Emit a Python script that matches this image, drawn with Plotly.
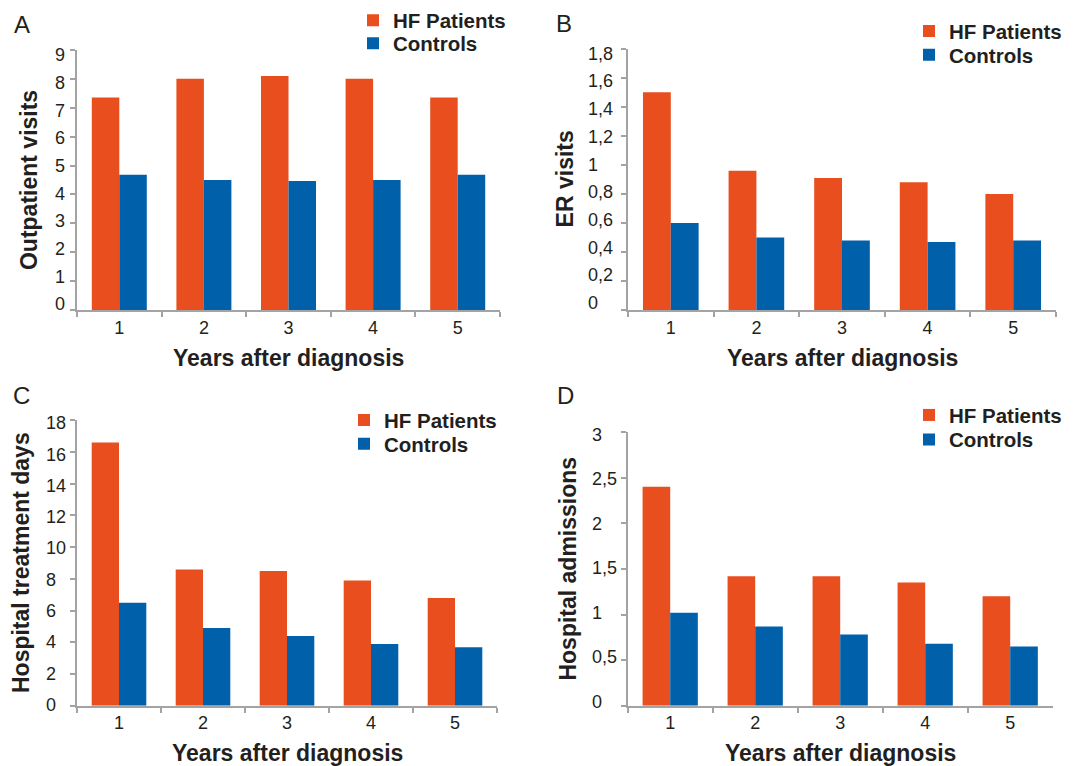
import plotly.graph_objects as go

# ---- data -------------------------------------------------------------
YEARS = ["1", "2", "3", "4", "5"]
SERIES_NAMES = ["HF Patients", "Controls"]

OUTPATIENT_HF = [7.35, 8.0, 8.1, 8.0, 7.35]
OUTPATIENT_CTRL = [4.68, 4.5, 4.47, 4.5, 4.68]

ER_HF = [1.5, 0.96, 0.91, 0.88, 0.8]
ER_CTRL = [0.6, 0.5, 0.48, 0.47, 0.48]

TREATMENT_DAYS_HF = [16.6, 8.6, 8.5, 7.9, 6.8]
TREATMENT_DAYS_CTRL = [6.5, 4.9, 4.4, 3.9, 3.7]

ADMISSIONS_HF = [2.4, 1.42, 1.42, 1.35, 1.2]
ADMISSIONS_CTRL = [1.02, 0.87, 0.78, 0.68, 0.65]

TICKS_A = [0, 1, 2, 3, 4, 5, 6, 7, 8, 9]
TICK_LABELS_A = ["0", "1", "2", "3", "4", "5", "6", "7", "8", "9"]
TICKS_B = [0, 0.2, 0.4, 0.6, 0.8, 1.0, 1.2, 1.4, 1.6, 1.8]
TICK_LABELS_B = ["0", "0,2", "0,4", "0,6", "0,8", "1", "1,2", "1,4", "1,6", "1,8"]
TICKS_C = [0, 2, 4, 6, 8, 10, 12, 14, 16, 18]
TICK_LABELS_C = ["0", "2", "4", "6", "8", "10", "12", "14", "16", "18"]
TICKS_D = [0, 0.5, 1.0, 1.5, 2.0, 2.5, 3.0]
TICK_LABELS_D = ["0", "0,5", "1", "1,5", "2", "2,5", "3"]

# ---- styling ----------------------------------------------------------
W, H = 1075, 766
ORANGE = "#E84E1E"
BLUE = "#0060A9"
AXIS_GREY = "#A3A3A3"
INK = "#231F20"
FONT = "Liberation Sans"
TICK_SIZE = 18
TITLE_SIZE = 23
LEGEND_SIZE = 20.5
LETTER_SIZE = 24


def px_x(v):
    return v / W


def px_y(v):
    return 1 - v / H


panels = [
    dict(letter="A", ytitle="Outpatient visits", hf=OUTPATIENT_HF, ctrl=OUTPATIENT_CTRL,
         ticks=TICKS_A, labels=TICK_LABELS_A,
         xpx=(77, 500), ypx=(48, 309), tick_dx=-24, tick_nudge=(6, -5.5),
         title_dx=-48, title_dy=-48,
         letter_pos=(21.5, 22.5), legend_rows=(18.5, 41.5), legend_x=353),
    dict(letter="B", ytitle="ER visits", hf=ER_HF, ctrl=ER_CTRL,
         ticks=TICKS_B, labels=TICK_LABELS_B,
         xpx=(628, 1056), ypx=(46.7, 309), tick_dx=-42, tick_nudge=(7, -5),
         title_dx=-63, title_dy=-48,
         letter_pos=(564, 22), legend_rows=(29.3, 53), legend_x=909),
    dict(letter="C", ytitle="Hospital treatment days", hf=TREATMENT_DAYS_HF, ctrl=TREATMENT_DAYS_CTRL,
         ticks=TICKS_C, labels=TICK_LABELS_C,
         xpx=(77, 497), ypx=(419.3, 705.7), tick_dx=-33, tick_nudge=(1, -3),
         title_dx=-56, title_dy=-47,
         letter_pos=(22, 395), legend_rows=(419.3, 443), legend_x=344),
    dict(letter="D", ytitle="Hospital admissions", hf=ADMISSIONS_HF, ctrl=ADMISSIONS_CTRL,
         ticks=TICKS_D, labels=TICK_LABELS_D,
         xpx=(627.7, 1052.7), ypx=(431, 705.7), tick_dx=-38, tick_nudge=(4, -3),
         title_dx=-60, title_dy=-47,
         letter_pos=(565, 395), legend_rows=(414.2, 438.7), legend_x=909),
]

fig = go.Figure()
layout = dict(
    width=W, height=H,
    margin=dict(l=0, r=0, t=0, b=0),
    paper_bgcolor="white", plot_bgcolor="white",
    barmode="group", bargap=0.35, bargroupgap=0,
    font=dict(family=FONT, color=INK, size=TICK_SIZE),
    showlegend=True,
)
annotations = []

for i, p in enumerate(panels):
    n = "" if i == 0 else str(i + 1)
    xa, ya = "x" + n, "y" + n
    leg_hf = "legend" if i == 0 else f"legend{2 * i + 1}"
    leg_ctrl = f"legend{2 * i + 2}"

    for name, vals, color, leg in ((SERIES_NAMES[0], p["hf"], ORANGE, leg_hf),
                                   (SERIES_NAMES[1], p["ctrl"], BLUE, leg_ctrl)):
        fig.add_trace(go.Bar(
            x=YEARS, y=vals, name=name, xaxis=xa, yaxis=ya,
            marker=dict(color=color, line=dict(width=0)),
            legend=leg, hoverinfo="x+y+name",
        ))

    # legends: one row per entry so the row spacing can be set exactly
    for leg, row in ((leg_hf, p["legend_rows"][0]), (leg_ctrl, p["legend_rows"][1])):
        layout[leg] = dict(
            x=px_x(p["legend_x"]), y=px_y(row), xanchor="left", yanchor="middle",
            bgcolor="rgba(0,0,0,0)", borderwidth=0,
            font=dict(family=FONT, size=LEGEND_SIZE, color=INK, weight="bold"),
            itemwidth=30,
        )

    x0, x1 = p["xpx"]
    y0, y1 = p["ypx"]
    layout["xaxis" + n] = dict(
        domain=[px_x(x0), px_x(x1)], anchor=ya, type="category",
        showline=True, linecolor=AXIS_GREY, linewidth=2,
        ticks="outside", tickson="boundaries", ticklen=5, tickwidth=2, tickcolor=AXIS_GREY,
        showgrid=False, zeroline=False, fixedrange=True,
        tickfont=dict(family=FONT, size=TICK_SIZE, color=INK), ticklabelstandoff=0,
    )
    lo, hi = p["ticks"][0], p["ticks"][-1]
    layout["yaxis" + n] = dict(
        domain=[px_y(y1), px_y(y0)], anchor=xa,
        range=[lo, hi],
        tickmode="array", tickvals=p["ticks"], showticklabels=False,
        showline=True, linecolor=AXIS_GREY, linewidth=2,
        ticks="outside", ticklen=5, tickwidth=2, tickcolor=AXIS_GREY,
        showgrid=False, zeroline=False, fixedrange=True,
    )

    # left-aligned value labels on the y axis, set slightly inward from the ends
    nb, nt = p["tick_nudge"]
    for v, lab in zip(p["ticks"], p["labels"]):
        f = (v - lo) / (hi - lo)
        annotations.append(dict(
            x=0, xref=xa + " domain", xshift=p["tick_dx"], xanchor="left",
            y=v, yref=ya, yanchor="middle", yshift=nb + (nt - nb) * f,
            text=lab, showarrow=False,
            font=dict(family=FONT, size=TICK_SIZE, color=INK),
        ))

    # axis titles
    annotations.append(dict(
        x=0, xref=xa + " domain", xshift=p["title_dx"], xanchor="center",
        y=0.5, yref=ya + " domain", yanchor="middle", textangle=-90,
        text=p["ytitle"], showarrow=False,
        font=dict(family=FONT, size=TITLE_SIZE, color=INK, weight="bold"),
    ))
    annotations.append(dict(
        x=0.5, xref=xa + " domain", xanchor="center",
        y=0, yref=ya + " domain", yshift=p["title_dy"], yanchor="middle",
        text="Years after diagnosis", showarrow=False,
        font=dict(family=FONT, size=TITLE_SIZE, color=INK, weight="bold"),
    ))

    # panel letter
    lx, ly = p["letter_pos"]
    annotations.append(dict(
        x=px_x(lx), xref="paper", xanchor="center",
        y=px_y(ly), yref="paper", yanchor="middle",
        text=p["letter"], showarrow=False,
        font=dict(family=FONT, size=LETTER_SIZE, color=INK),
    ))

layout["annotations"] = annotations
fig.update_layout(**layout)
fig.write_html("out.html")
